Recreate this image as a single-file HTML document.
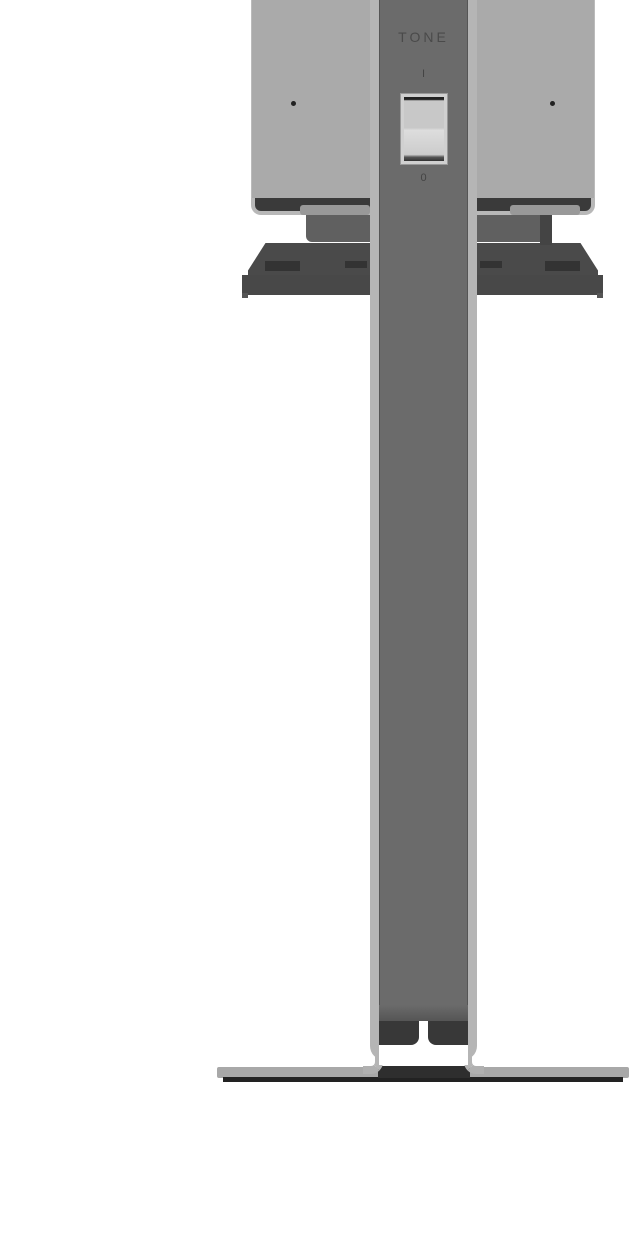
<!DOCTYPE html>
<html><head><style>
html,body{margin:0;padding:0;background:#fff;width:631px;height:1236px;overflow:hidden;position:relative}
div{position:absolute;box-sizing:border-box}
</style></head><body>
<!-- tray -->
<div style="left:248px;top:243px;width:350px;height:50px;background:#4a4a4a;clip-path:polygon(5% 0,95% 0,100% 55%,100% 100%,0 100%,0 55%)"></div>
<div style="left:242px;top:275px;width:361px;height:20px;background:#484848"></div>
<div style="left:242px;top:293px;width:6px;height:5px;background:#555"></div>
<div style="left:597px;top:293px;width:6px;height:5px;background:#555"></div>
<div style="left:265px;top:261px;width:35px;height:10px;background:#333"></div>
<div style="left:345px;top:261px;width:22px;height:7px;background:#333"></div>
<div style="left:480px;top:261px;width:22px;height:7px;background:#333"></div>
<div style="left:545px;top:261px;width:35px;height:10px;background:#333"></div>
<!-- blocks below box -->
<div style="left:306px;top:210px;width:240px;height:32px;background:#606060;border-radius:0 0 6px 6px"></div>
<div style="left:540px;top:210px;width:12px;height:35px;background:#444"></div>
<!-- box -->
<div style="left:251px;top:0;width:344px;height:200px;background:#aaa;border-left:1px solid #bbb;border-right:1px solid #bbb"></div>
<div style="left:251px;top:198px;width:344px;height:17px;border:4px solid #b8b8b8;border-top:none;border-radius:0 0 10px 10px;background:#3a3a3a"></div>
<div style="left:300px;top:205px;width:70px;height:10px;background:#999;border-radius:3px"></div>
<div style="left:510px;top:205px;width:70px;height:10px;background:#999;border-radius:3px"></div>
<div style="left:291px;top:101px;width:5px;height:5px;border-radius:50%;background:#222"></div>
<div style="left:550px;top:101px;width:5px;height:5px;border-radius:50%;background:#222"></div>
<!-- base plate -->
<div style="left:217px;top:1067px;width:412px;height:11px;background:#a8a8a8;border-radius:2px"></div>
<div style="left:223px;top:1077px;width:400px;height:5px;background:#222"></div>
<div style="left:378px;top:1066px;width:92px;height:12px;background:#2e2e2e"></div>
<!-- column -->
<div style="left:370px;top:0;width:107px;height:1060px;background:#b5b5b5;border-radius:0 0 14px 14px"></div>
<div style="left:363px;top:1052px;width:20px;height:22px;border-right:8px solid #b5b5b5;border-bottom:8px solid #b0b0b0;border-radius:0 0 12px 0"></div>
<div style="left:464px;top:1052px;width:20px;height:22px;border-left:8px solid #b5b5b5;border-bottom:8px solid #b0b0b0;border-radius:0 0 0 12px"></div>
<div style="left:379px;top:0;width:89px;height:1020px;background:#6b6b6b;border-left:1px solid #555;border-right:1px solid #555"></div>
<div style="left:379px;top:1020px;width:89px;height:45px;background:#fff"></div>
<div style="left:379px;top:1020px;width:40px;height:25px;background:#383838;border-radius:0 0 8px 0"></div>
<div style="left:428px;top:1020px;width:40px;height:25px;background:#383838;border-radius:0 0 0 8px"></div>
<div style="left:379px;top:1005px;width:89px;height:16px;background:linear-gradient(#6b6b6b,#555)"></div>
<!-- labels -->
<div style="left:379px;top:29px;width:89px;text-align:center;font:14px 'Liberation Sans',sans-serif;letter-spacing:3px;color:#4a4a4a">TONE</div>
<div style="left:379px;top:68px;width:89px;text-align:center;font:11px 'Liberation Sans',sans-serif;color:#444">I</div>
<div style="left:379px;top:172px;width:89px;text-align:center;font:11px 'Liberation Sans',sans-serif;color:#444">0</div>
<!-- switch -->
<div style="left:400px;top:93px;width:48px;height:72px;background:#d0d0d0;border:1px solid #999"></div>
<div style="left:404px;top:97px;width:40px;height:64px;background:linear-gradient(#222 0,#222 4%,#c8c8c8 6%,#c8c8c8 48%,#ddd 52%,#ccc 90%,#555 94%,#333 100%)"></div>
</body></html>
